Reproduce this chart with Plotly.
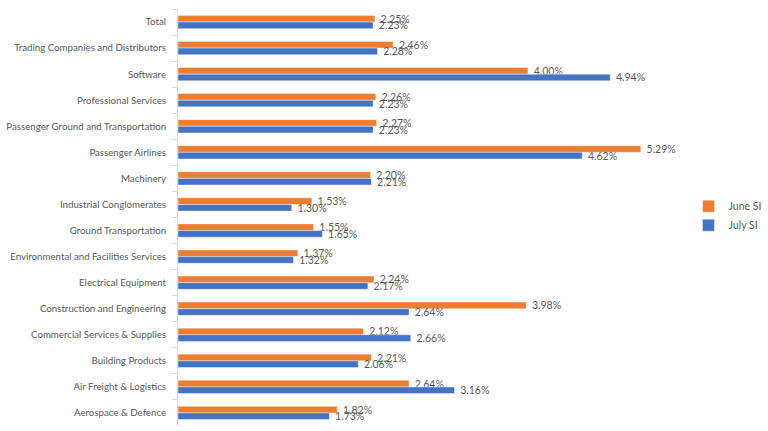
import plotly.graph_objects as go

categories = [
    "Total",
    "Trading Companies and Distributors",
    "Software",
    "Professional Services",
    "Passenger Ground and Transportation",
    "Passenger Airlines",
    "Machinery",
    "Industrial Conglomerates",
    "Ground Transportation",
    "Environmental and Facilities Services",
    "Electrical Equipment",
    "Construction and Engineering",
    "Commercial Services & Supplies",
    "Building Products",
    "Air Freight & Logistics",
    "Aerospace & Defence",
]
june_si = [2.25, 2.46, 4.00, 2.26, 2.27, 5.29, 2.20, 1.53, 1.55, 1.37, 2.24, 3.98, 2.12, 2.21, 2.64, 1.82]
july_si = [2.23, 2.28, 4.94, 2.23, 2.23, 4.62, 2.21, 1.30, 1.65, 1.32, 2.17, 2.64, 2.66, 2.06, 3.16, 1.73]

FONT = "Lato"
GRAY = "#595959"

fig = go.Figure()
for name, vals, color in [("June SI", june_si, "#ED7D31"), ("July SI", july_si, "#4472C4")]:
    fig.add_trace(go.Bar(
        y=categories, x=vals, name=name, orientation="h",
        marker=dict(color=color, line=dict(color="rgba(255,255,255,0.7)", width=0.6)),
        texttemplate="\u00a0%{x:.2f}%", textposition="outside",
        textfont=dict(family=FONT, size=10.5, color=GRAY),
        constraintext="none", cliponaxis=False,
    ))

fig.update_layout(
    width=768, height=431,
    margin=dict(l=178, r=68, t=9, b=5, autoexpand=False),
    paper_bgcolor="white", plot_bgcolor="white",
    barmode="group", bargap=0.49, bargroupgap=0,
    font=dict(family=FONT, size=10.5, color=GRAY),
    showlegend=True,
    legend=dict(x=0.978, xanchor="left", y=0.562, yanchor="top",
                font=dict(family=FONT, size=10.5, color=GRAY),
                bgcolor="rgba(0,0,0,0)", tracegroupgap=0),
)
fig.update_xaxes(range=[0, 5.966], showgrid=False, zeroline=False, showticklabels=False,
                 showline=False, ticks="", automargin=False)
fig.update_yaxes(autorange="reversed", showgrid=False, showline=True, linecolor="#D9D9D9",
                 linewidth=1, ticks="outside", tickson="boundaries", ticklen=5,
                 tickcolor="#D9D9D9", ticklabelstandoff=9, automargin=False,
                 tickfont=dict(family=FONT, size=9.7, color=GRAY))

fig.write_html("out.html")
